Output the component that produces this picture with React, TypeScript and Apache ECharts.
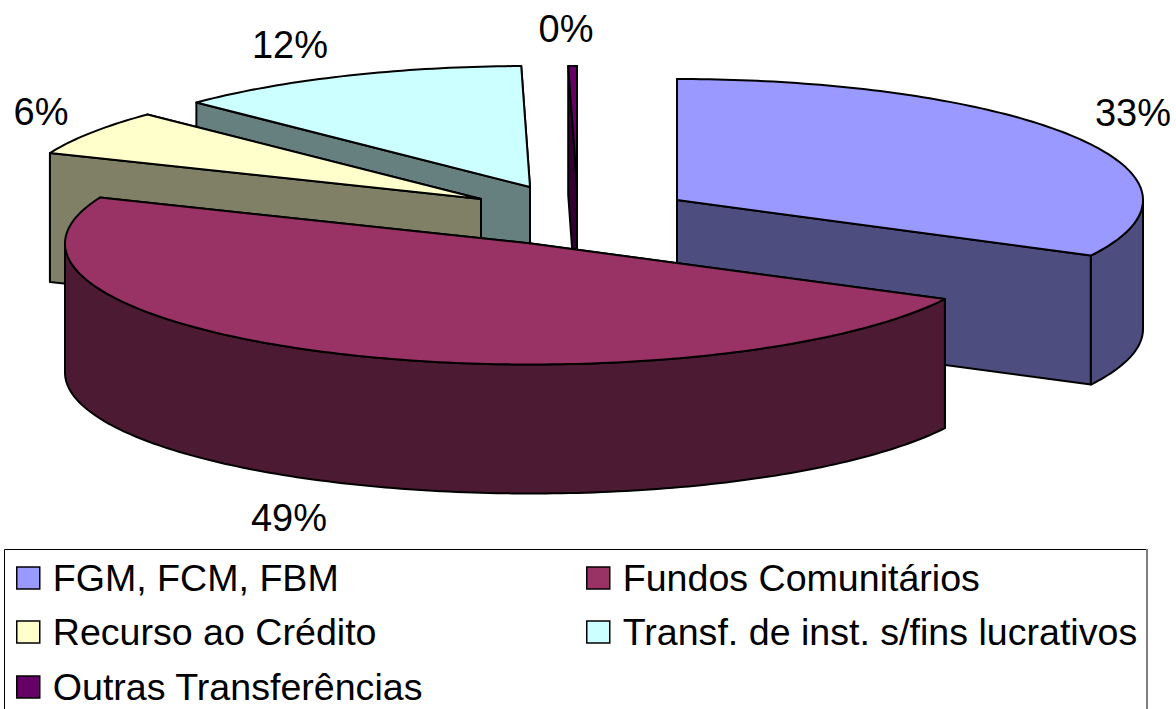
import React, { useEffect, useRef } from "react";
import * as echarts from "echarts";

const categories = ["FGM, FCM, FBM", "Fundos Comunitários", "Recurso ao Crédito", "Transf. de inst. s/fins lucrativos", "Outras Transferências"];
const values = [32.6, 48.6, 6.1, 12.4, 0.3];
const topColors = ["#9999FF", "#993366", "#FFFFCC", "#CCFFFF", "#660066"];
const wallColors = ["#4D4D80", "#4D1A33", "#808066", "#668080", "#330033"];
const drawOrder = [4, 5, 2, 1, 3];
const apexX = [677, 531, 481, 530, 577];
const apexY = [200, 243.5, 199, 187, 187];
const labelX = [1133, 289, 41, 290, 566];
const labelY = [113, 518, 112, 45, 29];
const legendLeft = [16, 586, 16, 586, 16];
const legendTop = [559, 559, 613, 613, 668];

const RX = 466;
const RY = 121;
const DEPTH = 129;
const FONT = "'Liberation Sans', Arial, sans-serif";
const LINE = { stroke: "#000", lineWidth: 2, lineJoin: "round" as const };
const total = values.reduce((a, b) => a + b, 0);

function makeRenderItem(index: number) {
  return () => {
    const before = values.slice(0, index).reduce((a, b) => a + b, 0);
    const from = (before / total) * 360;
    const to = ((before + values[index]) / total) * 360;
    const cx = apexX[index];
    const cy = apexY[index];
    const at = (deg: number, drop = 0): [number, number] => {
      const r = (deg * Math.PI) / 180;
      return [cx + RX * Math.sin(r), cy - RY * Math.cos(r) + drop];
    };
    const arc = (a: number, b: number, drop = 0) => {
      const pts: [number, number][] = [];
      const n = Math.max(2, Math.ceil(Math.abs(b - a)));
      for (let i = 0; i <= n; i++) pts.push(at(a + ((b - a) * i) / n, drop));
      return pts;
    };
    const poly = (points: number[][], fill: string) => ({
      type: "polygon",
      shape: { points },
      style: { fill, ...LINE },
    });
    const cut = (deg: number) => {
      const p = at(deg);
      const q = at(deg, DEPTH);
      return { y: p[1], el: poly([[cx, cy], p, q, [cx, cy + DEPTH]], wallColors[index]) };
    };
    const cuts = [cut(from), cut(to)].sort((a, b) => a.y - b.y).map((c) => c.el);
    const children: any[] = [...cuts];
    const wa = Math.max(from, 90);
    const wb = Math.min(to, 270);
    if (wb > wa) {
      children.push(poly([...arc(wa, wb), ...arc(wb, wa, DEPTH)], wallColors[index]));
    }
    children.push(poly([[cx, cy], ...arc(from, to)], topColors[index]));
    children.push({
      type: "text",
      style: {
        x: labelX[index],
        y: labelY[index],
        text: `${Math.round(values[index])}%`,
        fontSize: 38,
        fontFamily: FONT,
        fill: "#000",
        align: "center",
        verticalAlign: "middle",
      },
    });
    return { type: "group", children };
  };
}

export default function App() {
  const ref = useRef<HTMLDivElement>(null);
  useEffect(() => {
    document.body.style.margin = "0";
    const chart = echarts.init(ref.current!, undefined, { renderer: "svg" });
    chart.setOption({
      animation: false,
      backgroundColor: "#fff",
      graphic: [
        {
          type: "rect",
          z: 0,
          shape: { x: 4.5, y: 549.5, width: 1142, height: 175 },
          style: { fill: "#fff", stroke: "#000", lineWidth: 1 },
        },
        {
          type: "line",
          z: 1,
          shape: { x1: 1147, y1: 549, x2: 1147, y2: 709 },
          style: { stroke: "#808080", lineWidth: 2 },
        },
      ],
      legend: categories.map((name, i) => ({
        data: [name],
        left: legendLeft[i],
        top: legendTop[i],
        padding: 0,
        icon: "rect",
        itemWidth: 23,
        itemHeight: 22,
        selectedMode: false,
        z: 10,
        itemStyle: { borderColor: "#000", borderWidth: 1.5 },
        textStyle: { fontSize: 37.6, fontFamily: FONT, color: "#000", padding: [0, 0, 0, 8] },
      })),
      series: categories.map((name, i) => ({
        type: "custom",
        name,
        coordinateSystem: "none",
        z: drawOrder[i],
        silent: true,
        itemStyle: { color: topColors[i] },
        data: [[values[i]]],
        renderItem: makeRenderItem(i),
      })),
    });
    return () => chart.dispose();
  }, []);
  return <div ref={ref} style={{ width: 1176, height: 709 }} />;
}
